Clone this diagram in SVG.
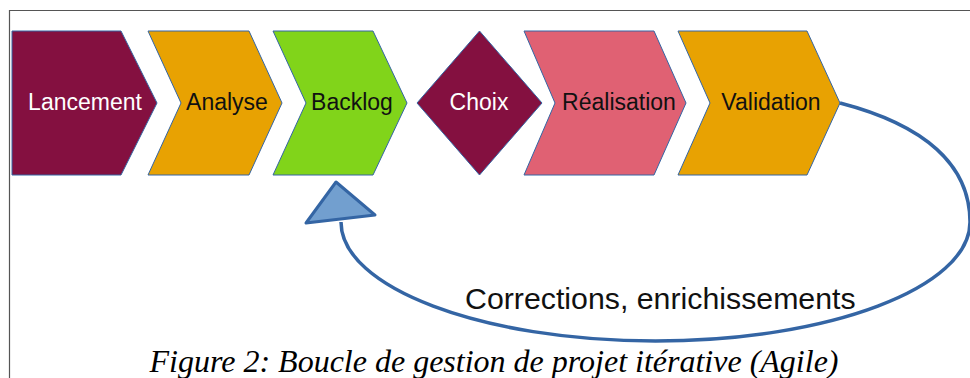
<svg xmlns="http://www.w3.org/2000/svg" width="970" height="378" viewBox="0 0 970 378">
  <style>
    .step { stroke: #3465a4; stroke-width: 1; stroke-linejoin: miter; }
    .lbl { font-family: "Liberation Sans", Arial, sans-serif; font-size: 23px; text-anchor: middle; fill: #111111; }
    .lbl.light { fill: #ffffff; }
    .loop { fill: none; stroke: #3465a4; stroke-width: 3.5; }
    .head { fill: #729fcf; stroke: #3465a4; stroke-width: 3; stroke-linejoin: round; }
    .note { font-family: "Liberation Sans", Arial, sans-serif; font-size: 30.3px; fill: #111111; }
    .caption { font-family: "Liberation Serif", "Times New Roman", serif; font-style: italic; font-size: 32px; text-anchor: middle; fill: #000000; }
  </style>

  <rect width="970" height="378" fill="#ffffff"/>
  <!-- frame -->
  <path d="M 9.5,378 V 10.5 H 970" fill="none" stroke="#555555" stroke-width="1.2"/>

  <g id="lancement">
    <polygon class="step" points="12,31 121,31 157,103 121,175 12,175" fill="#841040"/>
    <text class="lbl light" x="85" y="110">Lancement</text>
  </g>
  <g id="analyse">
    <polygon class="step" points="148,31 249,31 282,103 249,175 148,175 181,103" fill="#e8a202"/>
    <text class="lbl" x="227" y="110">Analyse</text>
  </g>
  <g id="backlog">
    <polygon class="step" points="273,31 373,31 407,103 373,175 273,175 306,103" fill="#81d41a"/>
    <text class="lbl" x="352" y="110">Backlog</text>
  </g>
  <g id="choix">
    <polygon class="step" points="479.5,31 542,103 479.5,175 417,103" fill="#841040"/>
    <text class="lbl light" x="479" y="110">Choix</text>
  </g>
  <g id="realisation">
    <polygon class="step" points="524,31 654,31 686,103 654,175 524,175 555,103" fill="#e06173"/>
    <text class="lbl" x="619" y="110">Réalisation</text>
  </g>
  <g id="validation">
    <polygon class="step" points="678,31 807,31 840,103 807,175 678,175 710,103" fill="#e8a202"/>
    <text class="lbl" x="771" y="110">Validation</text>
  </g>

  <g id="connectors">
    <path class="loop" d="M 840,103 C 925,125 970,165 970,222 C 970,287.7 829,341 655.5,341 C 482,341 341,287.7 341,222"/>
    <polygon class="head" points="336,182 306,223 375,215"/>
    <text class="note" x="465" y="309">Corrections, enrichissements</text>
  </g>

  <text class="caption" x="494" y="372">Figure 2: Boucle de gestion de projet itérative (Agile)</text>
</svg>
